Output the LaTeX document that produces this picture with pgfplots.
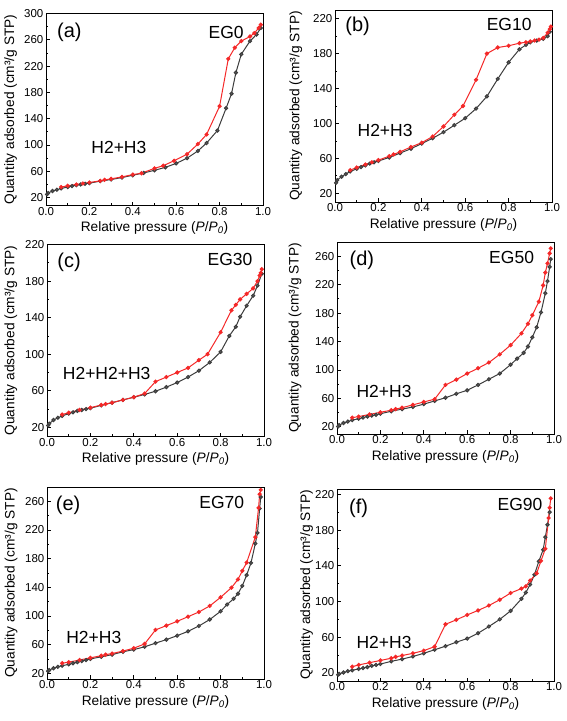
\documentclass[border=0pt]{standalone}
\usepackage{fontspec}
\setmainfont{Liberation Sans}
\usepackage{pgfplots}
\pgfplotsset{compat=1.18}
\definecolor{adsc}{HTML}{3C3C3C}
\definecolor{desc}{HTML}{F42828}
\newcommand\ann{\fontsize{17.5bp}{20bp}\selectfont}
\newcommand\lett{\fontsize{20bp}{24bp}\selectfont}
\pgfplotsset{
  panel/.style={
    scale only axis, width=217bp, height=192bp, xmin=0, xmax=1,
    xtick={0,0.2,0.4,0.6,0.8,1.0}, minor x tick num=1, minor y tick num=1,
    /pgf/number format/assume math mode=true,
    tick label style={font=\fontsize{11.5bp}{12bp}\selectfont},
    xticklabel style={inner sep=1.5bp, /pgf/number format/.cd, fixed, fixed zerofill, precision=1},
    yticklabel style={inner sep=2.5bp},
    label style={font=\fontsize{13.7bp}{16bp}\selectfont},
    xlabel={Relative pressure (\textit{P}/\textit{P}\textsubscript{\textit{0}})},
    ylabel={Quantity adsorbed (cm³/g STP)},
    xlabel style={at={(axis description cs:0.5,-0.118)}, anchor=center},
    tick pos=left, tick align=inside,
    axis line style={line width=0.9bp},
    major tick length=3.5bp, minor tick length=2bp,
    every tick/.style={black, line width=0.8bp},
    anchor=south west,
  },
  ads/.style={adsc, line width=1bp, mark=*, mark size=1.6bp, mark options={fill=adsc!80}},
  des/.style={desc, line width=1bp, mark=*, mark size=1.6bp, mark options={fill=desc}},
}
\begin{document}
\begin{tikzpicture}
\useasboundingbox (0,0) rectangle (567bp,721bp);

% (a) EG0
\begin{axis}[panel, at={(46bp,515.5bp)}, ymin=8, ymax=300, ytick={20,60,...,300},
  ylabel style={at={(axis description cs:-0.163,0.5)}, anchor=center}]
\addplot[ads] table {
0.005 25
0.01 27
0.03 30
0.05 32
0.07 34
0.1 36
0.12 37.5
0.14 39
0.16 40
0.18 41
0.2 42
0.25 45
0.3 47.5
0.35 50.5
0.4 54
0.45 57.5
0.5 61.5
0.55 66
0.6 72
0.65 80
0.7 91
0.74 103
0.79 122
0.83 156
0.855 178
0.875 210
0.9 238
0.94 258
0.97 268
0.99 278
};
\addplot[des] table {
0.99 283
0.98 278
0.96 270
0.94 265
0.9 258
0.87 248
0.84 231
0.8 159
0.74 116
0.7 101.5
0.65 86
0.59 76
0.54 68.5
0.5 64.5
0.44 57
0.4 55
0.35 51.5
0.3 48.5
0.27 47
0.25 45.5
0.2 43
0.17 41.5
0.14 40
0.1 38
0.07 36
};
\node[anchor=west, font=\lett] at (rel axis cs:0.035,0.903) {(a)};
\node[anchor=east, font=\ann] at (rel axis cs:0.927,0.903) {EG0};
\node[anchor=west, font=\ann] at (rel axis cs:0.193,0.304) {H2+H3};
\end{axis}

% (b) EG10
\begin{axis}[panel, at={(335bp,519bp)}, ymin=10, ymax=230, ytick={20,60,...,220},
  ylabel style={at={(axis description cs:-0.181,0.5)}, anchor=center}]
\addplot[ads] table {
0.005 32
0.01 35
0.03 39
0.05 42
0.07 45
0.1 48
0.12 50
0.14 52
0.16 54
0.18 55.5
0.2 57
0.25 61
0.3 66
0.35 71
0.4 77
0.45 83
0.5 90
0.55 98
0.6 106
0.65 117
0.7 131
0.75 151
0.8 170
0.85 185
0.88 190
0.9 193
0.93 195
0.96 197
0.98 200
0.99 205
};
\addplot[des] table {
0.995 211
0.99 208
0.98 204
0.96 198
0.94 196
0.92 195
0.9 194
0.88 193
0.85 192
0.8 189
0.75 187
0.7 180
0.65 150
0.59 120
0.55 110
0.5 96.5
0.45 85
0.4 78
0.35 73
0.3 67.5
0.27 64.5
0.25 62.5
0.2 58
0.17 55.5
0.14 53
0.1 49.5
0.07 46.5
};
\node[anchor=west, font=\lett] at (rel axis cs:0.032,0.913) {(b)};
\node[anchor=east, font=\ann] at (rel axis cs:0.922,0.927) {EG10};
\node[anchor=west, font=\ann] at (rel axis cs:0.088,0.37) {H2+H3};
\end{axis}

% (c) EG30
\begin{axis}[panel, at={(47bp,284.5bp)}, ymin=10, ymax=220, ytick={20,60,...,220},
  ylabel style={at={(axis description cs:-0.167,0.5)}, anchor=center}]
\addplot[ads] table {
0.005 22
0.01 24
0.03 28
0.05 30.5
0.07 32.5
0.1 35
0.12 36.5
0.14 38
0.16 39
0.18 40
0.2 41
0.25 44
0.3 47
0.35 50
0.4 53
0.45 56
0.5 59.5
0.55 64
0.6 69
0.65 75
0.7 82
0.75 91
0.8 102.5
0.84 120
0.87 130
0.89 141
0.92 153
0.95 164
0.97 175
0.99 188
};
\addplot[des] table {
0.99 193
0.985 189
0.98 186
0.97 180
0.95 172
0.92 166
0.89 160
0.87 154
0.85 148
0.8 124
0.74 100
0.7 93.5
0.65 85
0.6 80
0.55 75
0.5 70
0.45 57
0.4 53
0.35 50
0.3 47
0.27 45.5
0.25 44.5
0.2 41.5
0.15 39
0.1 36
0.07 34
};
\node[anchor=west, font=\lett] at (rel axis cs:0.032,0.905) {(c)};
\node[anchor=east, font=\ann] at (rel axis cs:0.963,0.922) {EG30};
\node[anchor=west, font=\ann] at (rel axis cs:0.057,0.327) {H2+H2+H3};
\end{axis}

% (d) EG50
\begin{axis}[panel, at={(337bp,287bp)}, ymin=10, ymax=280, ytick={20,60,...,260},
  ylabel style={at={(axis description cs:-0.193,0.5)}, anchor=center}]
\addplot[ads] table {
0.005 20.5
0.01 22.5
0.03 25.5
0.05 27.5
0.07 29.5
0.1 31.5
0.12 33
0.14 34.5
0.16 36
0.18 37
0.2 38.5
0.25 42
0.3 45
0.35 48
0.4 52
0.45 56.5
0.5 61
0.55 66.5
0.6 71.5
0.65 79
0.7 87
0.75 95
0.8 107.5
0.83 116
0.86 124
0.88 133
0.9 146
0.92 160
0.94 181
0.96 208
0.97 225
0.98 245
0.985 256
};
\addplot[des] table {
0.985 271
0.98 264
0.97 250
0.96 237
0.95 219
0.93 196
0.9 177
0.88 165
0.85 151.5
0.8 135
0.75 122
0.7 110.5
0.65 102.5
0.6 95
0.55 86.5
0.5 79
0.45 59
0.4 55
0.35 51
0.3 47
0.27 45
0.25 43.5
0.2 40.5
0.15 37.5
0.1 34.5
0.07 33
};
\node[anchor=west, font=\lett] at (rel axis cs:0.042,0.907) {(d)};
\node[anchor=east, font=\ann] at (rel axis cs:0.924,0.919) {EG50};
\node[anchor=west, font=\ann] at (rel axis cs:0.074,0.223) {H2+H3};
\end{axis}

% (e) EG70
\begin{axis}[panel, at={(47bp,42bp)}, ymin=12, ymax=280, ytick={20,60,...,260},
  ylabel style={at={(axis description cs:-0.166,0.5)}, anchor=center}]
\addplot[ads] table {
0.005 23
0.01 24.5
0.03 27
0.05 29
0.07 30.5
0.1 32.5
0.12 34
0.14 35.5
0.16 37
0.18 38.5
0.2 40
0.25 43
0.3 46
0.35 50
0.4 53
0.45 57
0.5 62
0.55 67
0.6 72.5
0.65 78.5
0.7 86
0.75 95
0.8 106.5
0.83 116
0.86 124
0.88 131
0.9 142
0.92 157
0.94 174
0.96 201
0.97 216
0.98 250
0.985 266
};
\addplot[des] table {
0.985 276
0.98 270
0.975 251
0.96 210
0.92 174.5
0.9 163
0.88 151
0.85 139.5
0.8 126
0.75 114
0.7 105.5
0.65 99
0.6 92.5
0.55 86.5
0.5 80.5
0.45 61
0.4 55
0.35 51
0.3 47.5
0.27 46
0.25 44.5
0.2 41.5
0.15 38.5
0.1 35.5
0.07 34
};
\node[anchor=west, font=\lett] at (rel axis cs:0.025,0.907) {(e)};
\node[anchor=east, font=\ann] at (rel axis cs:0.925,0.92) {EG70};
\node[anchor=west, font=\ann] at (rel axis cs:0.073,0.216) {H2+H3};
\end{axis}

% (f) EG90
\begin{axis}[panel, at={(337bp,40bp)}, ymin=11, ymax=226, ytick={20,60,...,220},
  ylabel style={at={(axis description cs:-0.14,0.5)}, anchor=center}]
\addplot[ads] table {
0.005 18
0.01 19
0.03 20.5
0.05 22
0.07 23
0.1 24.5
0.12 25.5
0.14 26.5
0.16 28
0.18 29
0.2 30
0.25 33
0.3 35.5
0.35 38.5
0.4 42
0.45 46
0.5 50
0.55 54.5
0.6 58.5
0.65 64.5
0.7 72
0.75 80
0.8 89.5
0.85 103
0.87 110
0.89 119
0.91 130
0.93 145
0.95 158
0.96 172
0.97 186
0.98 200
};
\addplot[des] table {
0.985 215.5
0.98 205
0.975 193.5
0.96 159
0.94 145.5
0.92 131.5
0.89 123.5
0.87 117
0.85 114.5
0.8 109.5
0.75 102
0.7 95.5
0.65 90
0.6 85
0.55 79.5
0.5 74.5
0.45 49.5
0.4 45
0.35 42
0.3 39.5
0.27 38
0.25 36.5
0.2 34
0.15 31.5
0.1 29
0.07 27
};
\node[anchor=west, font=\lett] at (rel axis cs:0.04,0.898) {(f)};
\node[anchor=east, font=\ann] at (rel axis cs:0.963,0.921) {EG90};
\node[anchor=west, font=\ann] at (rel axis cs:0.074,0.2) {H2+H3};
\end{axis}
\end{tikzpicture}
\end{document}
